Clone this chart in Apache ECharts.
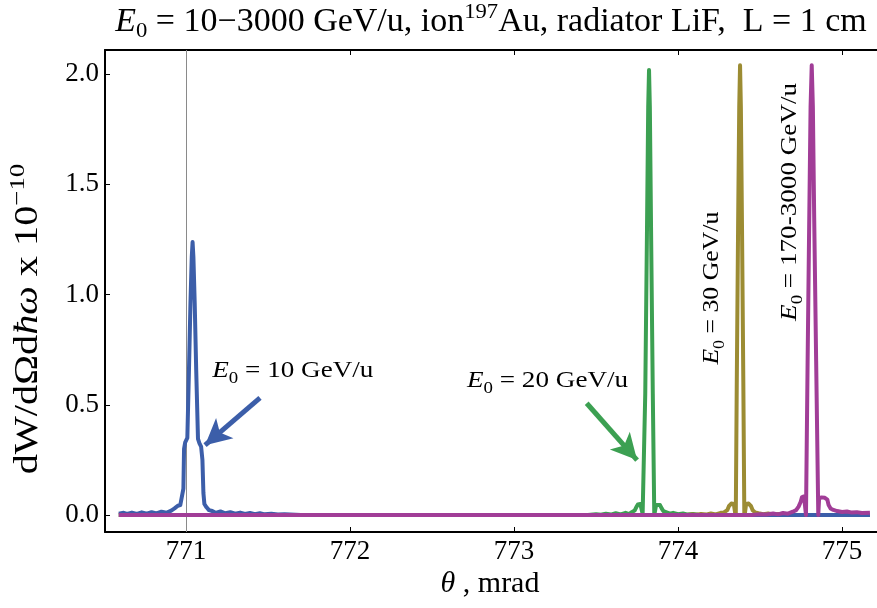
<!DOCTYPE html>
<html><head><meta charset="utf-8">
<script src="https://cdn.jsdelivr.net/npm/echarts@6/dist/echarts.min.js"></script>
<style>html,body{margin:0;padding:0;background:#fff}#c{width:877px;height:608px}</style>
</head><body><div id="c"></div>
<script>
// ---- data ----
const xTicks = [771, 772, 773, 774, 775];
const yTicks = [0.0, 0.5, 1.0, 1.5, 2.0];

// E0 = 10 GeV/u  (theta mrad, dW/dΩdħω x 1e-10)
const curve10 = [
  [770.59,0.006],[770.62,0.010],[770.64,0.005],[770.67,0.011],[770.70,0.005],[770.73,0.012],
  [770.76,0.006],[770.79,0.013],[770.82,0.007],[770.85,0.015],[770.88,0.010],[770.91,0.020],
  [770.93,0.030],[770.95,0.042],[770.965,0.045],[770.975,0.050],[770.984,0.12],[770.988,0.30],
  [770.995,0.33],[771.008,0.35],[771.018,0.66],[771.027,0.96],[771.035,1.17],[771.040,1.238],
  [771.045,1.17],[771.053,0.96],[771.062,0.66],[771.073,0.345],[771.082,0.325],[771.092,0.31],
  [771.100,0.25],[771.106,0.10],[771.112,0.05],[771.125,0.035],[771.14,0.022],[771.16,0.018],
  [771.18,0.010],[771.21,0.016],[771.24,0.008],[771.27,0.013],[771.30,0.006],[771.33,0.011],
  [771.36,0.005],[771.39,0.009],[771.42,0.004],[771.45,0.008],[771.48,0.003],[771.52,0.006],
  [771.56,0.002],[771.60,0.004],[771.70,0.0],[775.17,0.0]
];
// E0 = 20 GeV/u
const curve20 = [
  [770.59,0.0],[773.45,0.0],[773.50,0.004],[773.53,0.001],[773.56,0.006],[773.59,0.002],
  [773.62,0.008],[773.65,0.003],[773.68,0.010],[773.70,0.004],[773.72,0.014],[773.735,0.020],
  [773.745,0.035],[773.755,0.048],[773.77,0.050],[773.778,0.045],[773.784,0.005],[773.79,0.0],
  [773.80,0.55],[773.81,1.25],[773.818,1.85],[773.823,2.018],[773.828,1.85],[773.836,1.25],
  [773.846,0.55],[773.855,0.0],[773.860,0.005],[773.866,0.045],[773.875,0.050],[773.89,0.045],
  [773.90,0.030],[773.91,0.018],[773.93,0.012],[773.95,0.006],[773.97,0.010],[774.00,0.004],
  [774.03,0.007],[774.06,0.002],[774.09,0.005],[774.12,0.001],[774.15,0.0],[775.17,0.0]
];
// E0 = 30 GeV/u
const curve30 = [
  [770.59,0.0],[774.05,0.0],[774.08,0.003],[774.11,0.001],[774.14,0.005],[774.17,0.002],
  [774.20,0.007],[774.23,0.003],[774.26,0.010],[774.28,0.012],[774.30,0.022],[774.31,0.040],
  [774.325,0.052],[774.34,0.050],[774.348,0.010],[774.352,0.0],[774.358,0.6],[774.366,1.3],
  [774.373,1.85],[774.378,2.04],[774.383,1.85],[774.390,1.3],[774.398,0.6],[774.404,0.0],
  [774.408,0.010],[774.415,0.050],[774.43,0.052],[774.445,0.040],[774.455,0.022],[774.47,0.012],
  [774.49,0.008],[774.52,0.004],[774.55,0.007],[774.58,0.002],[774.61,0.005],[774.64,0.001],
  [774.68,0.0],[775.17,0.0]
];
// E0 = 170-3000 GeV/u
const curve170 = [
  [770.59,0.0],[774.45,0.0],[774.50,0.004],[774.54,0.002],[774.58,0.007],[774.61,0.003],
  [774.64,0.009],[774.67,0.006],[774.70,0.015],[774.72,0.022],[774.735,0.038],[774.748,0.060],
  [774.755,0.080],[774.768,0.085],[774.776,0.080],[774.780,0.0],[774.790,0.7],[774.800,1.35],
  [774.808,1.85],[774.815,2.04],[774.822,1.85],[774.830,1.35],[774.842,0.7],[774.855,0.0],
  [774.86,0.075],[774.875,0.080],[774.895,0.078],[774.91,0.070],[774.918,0.045],[774.93,0.030],
  [774.947,0.023],[774.97,0.018],[775.00,0.014],[775.03,0.016],[775.06,0.011],[775.09,0.013],
  [775.12,0.009],[775.17,0.010]
];
// annotation arrows (data coordinates: tail, tip)
const arrow10 = [[771.451, 0.531], [771.116, 0.317]];
const arrow20 = [[773.443, 0.507], [773.750, 0.249]];

// ---- styling ----
const serif = '"Liberation Serif","Times New Roman",serif';
const C10 = '#3C5EA9', C20 = '#3CA052', C30 = '#9C8C33', C170 = '#A13D97';
const xMin = 770.506, xMax = 775.213, yMin = -0.077, yMax = 2.109;

const chart = echarts.init(document.getElementById('c'));

function line(name, data, color, width, z) {
  return { name, type: 'line', data, symbol: 'none', showSymbol: false,
    lineStyle: { color, width, join: 'round' }, itemStyle: { color }, z, silent: true };
}
function arrowLine(pair, color) {
  return { silent: true, symbol: ['none', 'arrow'], symbolSize: [20, 26],
    label: { show: false }, lineStyle: { color, width: 5, type: 'solid' },
    data: [[{ coord: pair[0] }, { coord: pair[1] }]] };
}

const s20 = line('20', curve20, C20, 4, 3); s20.markLine = arrowLine(arrow20, C20);
const s30 = line('30', curve30, C30, 4, 4);
const s10 = line('10', curve10, C10, 4, 5); s10.markLine = arrowLine(arrow10, C10);
const s170 = line('170', curve170, C170, 4, 6);
const sAxis = { type: 'line', data: [[771, 0]], symbol: 'none', lineStyle: { opacity: 0 }, z: 1, silent: true,
  markLine: { silent: true, symbol: 'none', label: { show: false },
    lineStyle: { color: '#8a8a8a', width: 1, type: 'solid' }, data: [{ xAxis: 771 }] } };

const axisCommon = {
  type: 'value', splitLine: { show: false },
  axisLine: { show: true, onZero: false, lineStyle: { color: '#000', width: 2 } },
  axisTick: { show: true, inside: true, length: 5, lineStyle: { color: '#000', width: 1 } }
};

chart.setOption({
  animation: false,
  backgroundColor: '#fff',
  grid: { left: 105, right: 0, top: 50, bottom: 76, containLabel: false },
  xAxis: [
    Object.assign({}, axisCommon, { min: xMin, max: xMax, position: 'bottom',
      axisLabel: { color: '#000', fontFamily: serif, fontSize: 27, margin: 6,
        showMinLabel: false, showMaxLabel: false,
        formatter: v => xTicks.some(t => Math.abs(t - v) < 1e-6) ? String(Math.round(v)) : '' } }),
    Object.assign({}, axisCommon, { min: xMin, max: xMax, position: 'top', axisLabel: { show: false } })
  ],
  yAxis: Object.assign({}, axisCommon, { min: yMin, max: yMax, splitNumber: 5,
    axisLabel: { color: '#000', fontFamily: serif, fontSize: 27, margin: 6,
      showMinLabel: false, showMaxLabel: false,
      formatter: v => yTicks.some(t => Math.abs(t - v) < 1e-6) ? v.toFixed(1) : '' } }),
  series: [sAxis, s20, s30, s10, s170]
});

// ---- text annotations placed via the axes' own scales ----
const P = (x, y) => chart.convertToPixel({ gridIndex: 0 }, [x, y]);
function richE(fs) {
  return {
    i: { fontFamily: serif, fontSize: fs, fontStyle: 'italic', fill: '#000', lineHeight: fs + 8, verticalAlign: 'middle' },
    s: { fontFamily: serif, fontSize: Math.round(fs * 0.68), fill: '#000', lineHeight: fs + 8, verticalAlign: 'bottom' },
    p: { fontFamily: serif, fontSize: Math.round(fs * 0.68), fill: '#000', lineHeight: fs + 8, verticalAlign: 'top' },
    n: { fontFamily: serif, fontSize: fs, fill: '#000', lineHeight: fs + 8, verticalAlign: 'middle' }
  };
}
function txt(x, y, text, fs, align, rot, sx) {
  return { type: 'text', x, y, rotation: rot || 0, scaleX: sx || 1, silent: true, z: 100,
    style: { text, rich: richE(fs), fontFamily: serif, fontSize: fs, fill: '#000', align: align, verticalAlign: 'middle' } };
}
const p10 = P(771.16, 0.653), p20 = P(772.713, 0.608), p30 = P(774.207, 1.029), p170 = P(774.683, 1.42);
chart.setOption({ graphic: [
  txt(491, 22, '{i|E}{s|0}{n| = 10−3000 GeV/u, ion}{p|197}{n|Au, radiator LiF,  L = 1 cm}', 33, 'center', 0, 1.03),
  txt(28, 319, '{n|dW/dΩd}{i|ħω}{n| x 10}{p|−10}', 33, 'center', Math.PI / 2, 1.22),
  txt(490, 584, '{i|θ}{n| , mrad}', 30, 'center'),
  txt(p10[0], p10[1], '{i|E}{s|0}{n| = 10 GeV/u}', 23, 'left', 0, 1.18),
  txt(p20[0], p20[1], '{i|E}{s|0}{n| = 20 GeV/u}', 23, 'left', 0, 1.18),
  txt(p30[0], p30[1], '{i|E}{s|0}{n| = 30 GeV/u}', 23, 'center', Math.PI / 2, 1.12),
  txt(p170[0], p170[1], '{i|E}{s|0}{n| = 170-3000 GeV/u}', 23, 'center', Math.PI / 2, 1.18)
] });
</script></body></html>
